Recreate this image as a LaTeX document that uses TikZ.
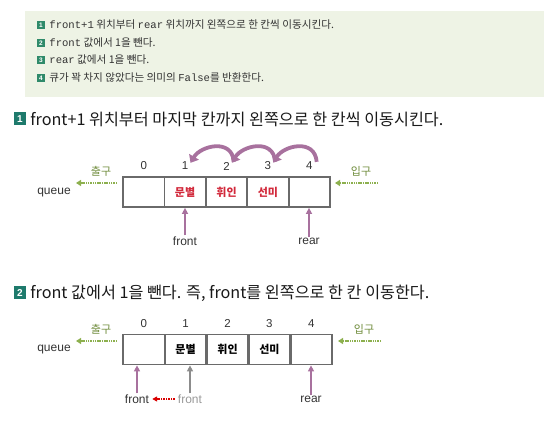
\documentclass[tikz,border=0pt]{standalone}
\usepackage{fontspec}
\setmainfont{Liberation Sans}
\newfontfamily\kr{Noto Sans CJK KR}
\newfontfamily\mono{Liberation Mono}
\usetikzlibrary{arrows.meta,positioning,calc}
\definecolor{boxbg}{HTML}{EEF3E5}
\definecolor{badge}{HTML}{2F8A6A}
\definecolor{hbadge}{HTML}{1E7A6C}
\definecolor{purp}{HTML}{A8719E}
\definecolor{redtxt}{HTML}{D22A3C}
\definecolor{grn}{HTML}{8DB04E}
\definecolor{cellgray}{HTML}{6A6A6A}
\definecolor{txt}{HTML}{333333}
\begin{document}
\begin{tikzpicture}[x=1pt,y=-1pt,
  cell/.style={draw=cellgray,line width=1.8pt,minimum width=41.4pt,minimum height=30pt,inner sep=0pt,font=\kr\bfseries\fontsize{11}{12}\selectfont},
  idx/.style={font=\fontsize{11.5}{12}\selectfont,text=txt,inner sep=1pt},
  lbl/.style={font=\fontsize{12}{13}\selectfont,text=txt,inner sep=1pt},
  inout/.style={font=\kr\fontsize{11}{12}\selectfont,text=grn!80!black,inner sep=1pt},
  garrow/.style={draw=grn,line width=1.8pt,dash pattern=on 1.5pt off 0.8pt,-{Triangle[length=5pt,width=6pt]}},
  parrow/.style={draw=purp,line width=2pt,-{Triangle[length=6pt,width=6pt]}},
  curv/.style={draw=purp,line width=3.8pt,-{Triangle[length=7pt,width=11pt]}},
  tline/.style={anchor=west,inner sep=0pt,font=\kr\fontsize{10.6}{12}\selectfont,text=txt},
  sbadge/.style={fill=badge,text=white,font=\bfseries\fontsize{6.5}{7}\selectfont,minimum size=8pt,inner sep=0pt},
  hbadgest/.style={fill=hbadge,text=white,font=\bfseries\fontsize{10}{11}\selectfont,minimum width=12pt,minimum height=13pt,inner sep=0pt},
  head/.style={anchor=west,inner sep=0pt,font=\kr\fontsize{16.2}{18}\selectfont,text=black!90}]
\useasboundingbox (0,0) rectangle (544,430);
% top green box
\fill[boxbg] (25,11) rectangle (544,97);
\node[sbadge] (b1) at (41,25) {1};
\node[tline,right=4pt of b1] (t1) {{\mono front+1} 위치부터 {\mono rear} 위치까지 왼쪽으로 한 칸씩 이동시킨다.};
\node[sbadge] (b2) at (41,43) {2};
\node[tline,right=4pt of b2] (t2) {{\mono front} 값에서 1을 뺀다.};
\node[sbadge] (b3) at (41,60) {3};
\node[tline,right=4pt of b3] (t3) {{\mono rear} 값에서 1을 뺀다.};
\node[sbadge] (b4) at (41,78) {4};
\node[tline,right=4pt of b4] (t4) {큐가 꽉 차지 않았다는 의미의 {\mono False}를 반환한다.};
% heading 1
\node[hbadgest] (h1b) at (20,119) {1};
\node[head,right=4pt of h1b] (h1) {front+1 위치부터 마지막 칸까지 왼쪽으로 한 칸씩 이동시킨다.};
% diagram 1
\node[cell] (a0) at (143.7,192) {};
\node[cell] (a1) at (185.1,192) {\textcolor{redtxt}{문별}};
\node[cell] (a2) at (226.5,192) {\textcolor{redtxt}{휘인}};
\node[cell] (a3) at (267.9,192) {\textcolor{redtxt}{선미}};
\node[cell] (a4) at (309.3,192) {};
\foreach \i in {0,...,4} \node[idx] (ai\i) at ($(a\i)+(0,-26)$) {\i};
\node[lbl] (aq) at (54,193) {queue};
\node[inout] (aout) at (101,171) {출구};
\node[inout] (ain) at (361,171) {입구};
\coordinate (aos) at (117,183); \coordinate (aoe) at (76,183);
\draw[garrow] (aos) -- (aoe);
\coordinate (ais) at (378,183); \coordinate (aie) at (335,183);
\draw[garrow] (ais) -- (aie);
\node[lbl] (af) at (185,241) {front};
\node[lbl] (ar) at (309,241) {rear};
\draw[parrow] (af.north) -- (af.north |- a1.south);
\draw[parrow] (ar.north) -- (ar.north |- a4.south);
\foreach \p/\q in {2/1,3/2,4/3}
  \draw[curv] ([xshift=3pt,yshift=-1pt]ai\p.north east) .. controls +(-2,-24) and +(10,-17) .. ([xshift=1pt,yshift=-2pt]ai\q.north east);
% heading 2
\node[hbadgest] (h2b) at (20,293) {2};
\node[head,right=4pt of h2b] (h2) {front 값에서 1을 뺀다. 즉, front를 왼쪽으로 한 칸 이동한다.};
% diagram 2
\node[cell] (b0) at (143.7,349.5) {};
\node[cell] (c1) at (185.6,349.5) {문별};
\node[cell] (c2) at (227.5,349.5) {휘인};
\node[cell] (c3) at (269.4,349.5) {선미};
\node[cell] (c4) at (311.3,349.5) {};
\node[idx] (bi0) at ($(b0)+(0,-26)$) {0};
\foreach \i in {1,...,4} \node[idx] (bi\i) at ($(c\i)+(0,-26)$) {\i};
\node[lbl] (bq) at (54,350) {queue};
\node[inout] (bout) at (101,329) {출구};
\node[inout] (bin) at (364,329) {입구};
\coordinate (bos) at (117,341); \coordinate (boe) at (76,341);
\draw[garrow] (bos) -- (boe);
\coordinate (bis) at (381,341); \coordinate (bie) at (338,341);
\draw[garrow] (bis) -- (bie);
\node[lbl] (bf) at (137,399) {front};
\node[lbl,text=gray!80] (bfo) at (190,399) {front};
\node[lbl] (br) at (311,399) {rear};
\draw[parrow] (bf.north) -- (bf.north |- b0.south);
\draw[parrow,draw=gray!90] (bfo.north) -- (bfo.north |- c1.south);
\draw[parrow] (br.north) -- (br.north |- c4.south);
\draw[draw=red!85!black,line width=1.6pt,dash pattern=on 1.5pt off 1pt,-{Triangle[length=5pt,width=5pt]},shorten >=2pt,shorten <=2pt] (bfo.west) -- (bf.east);
\end{tikzpicture}
\end{document}
